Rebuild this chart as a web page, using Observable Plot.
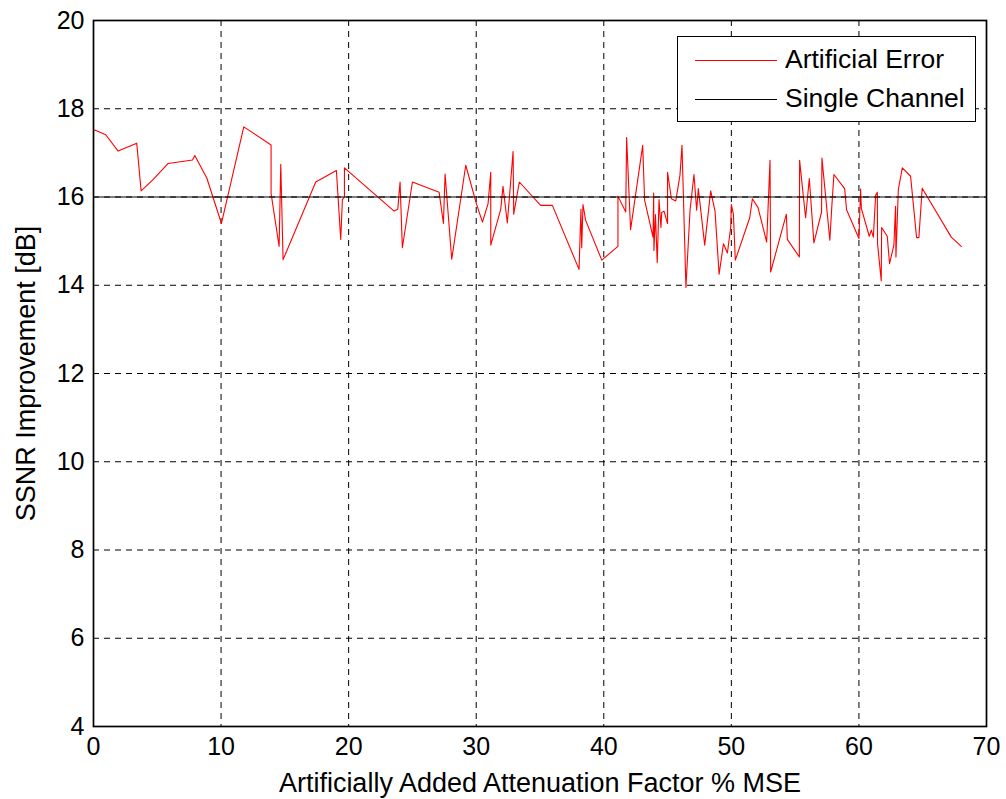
<!DOCTYPE html>
<html>
<head>
<meta charset="utf-8">
<script src="https://cdn.jsdelivr.net/npm/d3@7"></script>
<script src="https://cdn.jsdelivr.net/npm/@observablehq/plot@0.6"></script>
<style>
  body { margin: 0; background: #fff; }
  #wrap { position: relative; width: 1006px; height: 799px; font-family: "Liberation Sans", Arial, sans-serif; }
  #legend { position: absolute; left: 677px; top: 36px; width: 297px; height: 84px; border: 1.4px solid #000; background: #fff; }
  .li { position: absolute; left: 0; width: 100%; height: 40px; }
  .li .sw { position: absolute; left: 17px; width: 82px; top: 50%; border-top: 1.2px solid; }
  .li .lb { position: absolute; left: 107px; top: 50%; transform: translateY(-52%); font-size: 26.5px; white-space: nowrap; color: #000; }
</style>
</head>
<body>
<div id="wrap"></div>
<script>
const xValues = [0,0.96,1.93,3.39,3.73,4.65,5.85,7.76,7.94,8.88,10.03,11.78,13.92,13.92,14.55,14.68,14.86,17.42,19.04,19.38,19.51,19.67,19.67,23.56,23.85,24.03,24.21,25.00,27.09,27.43,27.56,28.08,29.18,30.01,30.49,30.93,31.14,31.14,31.92,32.10,32.44,32.89,32.94,33.38,35.05,35.97,38.06,38.21,38.27,38.37,38.58,39.84,41.11,41.11,41.72,41.79,42.10,43.05,43.20,43.86,43.91,43.93,44.05,44.19,44.33,44.48,44.54,44.72,45.00,45.00,45.30,45.64,45.97,46.13,46.44,46.76,47.07,47.28,47.41,47.91,48.38,48.72,49.04,49.38,49.69,49.95,50.00,50.16,50.31,51.44,51.65,52.09,52.77,53.03,53.08,54.31,54.39,55.33,55.35,55.82,56.11,56.47,57.07,57.10,57.72,57.88,58.04,58.88,59.03,60.00,60.13,60.19,60.81,60.97,61.13,61.31,61.44,61.46,61.75,61.78,62.22,62.40,62.74,62.87,62.90,63.09,63.40,64.05,64.52,64.70,64.96,67.24,68.02];
const yValues = [17.53,17.41,17.04,17.22,16.14,16.39,16.76,16.84,16.94,16.43,15.40,17.59,17.18,16.08,14.88,16.74,14.58,16.34,16.60,15.04,15.94,16.00,16.66,15.68,15.72,16.34,14.85,16.34,16.11,15.40,16.52,14.59,16.72,15.85,15.43,15.85,16.56,14.91,15.72,16.24,15.41,17.03,15.61,16.34,15.81,15.81,14.36,15.72,14.85,15.83,15.47,14.57,14.88,16.02,15.66,17.35,15.26,17.17,15.93,15.09,16.09,14.79,15.60,14.51,15.94,15.31,15.65,15.68,15.40,16.56,15.96,15.91,16.49,17.17,13.95,15.70,16.51,15.70,16.19,14.91,16.14,15.68,14.25,14.94,14.73,15.32,15.83,15.61,14.57,15.53,15.96,15.76,14.98,16.83,14.30,15.61,15.04,14.64,16.83,15.53,16.42,14.96,15.66,16.88,15.02,15.81,16.51,16.19,15.71,15.06,16.18,15.74,15.11,15.25,15.09,16.04,16.11,14.94,14.10,15.31,15.11,14.49,14.91,15.79,14.64,16.17,16.66,16.47,15.08,15.08,16.20,15.09,14.88];
const singleChannel = 16;
const xTicks = [0,10,20,30,40,50,60,70];
const yTicks = [4,6,8,10,12,14,16,18,20];
const seriesNames = ["Artificial Error", "Single Channel"];
const seriesColors = ["#ff0000", "#000000"];
const xLabel = "Artificially Added Attenuation Factor % MSE";
const yLabel = "SSNR Improvement [dB]";

const data = xValues.map((x, i) => ({x, y: yValues[i]}));

const chart = Plot.plot({
  width: 1006,
  height: 799,
  marginLeft: 93,
  marginRight: 20,
  marginTop: 20,
  marginBottom: 73,
  style: {fontFamily: "'Liberation Sans', Arial, sans-serif", fontSize: "25px", color: "#000", background: "#fff"},
  x: {domain: [0, 70]},
  y: {domain: [4, 20]},
  marks: [
    Plot.gridX(xTicks, {stroke: "#000", strokeOpacity: 1, strokeWidth: 1, strokeDasharray: "6,5"}),
    Plot.gridY(yTicks, {stroke: "#000", strokeOpacity: 1, strokeWidth: 1, strokeDasharray: "6,5"}),
    Plot.line(data, {x: "x", y: "y", stroke: seriesColors[0], strokeWidth: 1.1}),
    Plot.ruleY([singleChannel], {stroke: seriesColors[1], strokeWidth: 1.1}),
    Plot.frame({stroke: "#000", strokeWidth: 1.7}),
    Plot.axisX(xTicks, {tickSize: 0, tickPadding: 11, tickFormat: d => String(d), label: null, fontSize: 25}),
    Plot.axisX({label: xLabel, labelAnchor: "center", labelArrow: "none", labelOffset: 65, ticks: [], tickSize: 0, fontSize: 27, dx: -5}),
    Plot.axisY(yTicks, {tickSize: 0, tickPadding: 9, tickFormat: d => String(d), label: null, fontSize: 25}),
    Plot.axisY({label: yLabel, labelAnchor: "center", labelArrow: "none", labelOffset: 78, ticks: [], tickSize: 0, fontSize: 27})
  ]
});

const wrap = document.getElementById("wrap");
wrap.appendChild(chart);

const legend = document.createElement("div");
legend.id = "legend";
seriesNames.forEach((name, i) => {
  const row = document.createElement("div");
  row.className = "li";
  row.style.top = (i === 0 ? 3 : 42) + "px";
  const sw = document.createElement("div");
  sw.className = "sw";
  sw.style.borderColor = seriesColors[i];
  const lb = document.createElement("div");
  lb.className = "lb";
  lb.textContent = name;
  row.appendChild(sw);
  row.appendChild(lb);
  legend.appendChild(row);
});
wrap.appendChild(legend);
</script>
</body>
</html>
